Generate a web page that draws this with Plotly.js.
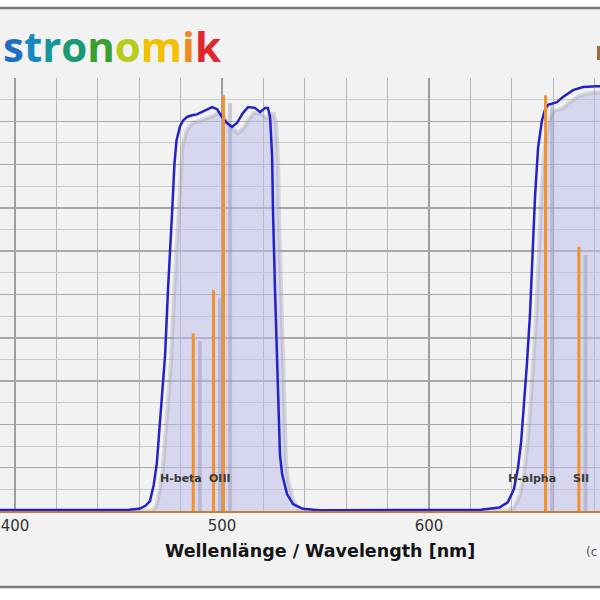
<!DOCTYPE html>
<html><head><meta charset="utf-8">
<script src="https://cdn.plot.ly/plotly-3.0.1.min.js"></script>
<style>html,body{margin:0;padding:0;background:#fff}#chart{width:600px;height:600px}</style>
</head><body><div id="chart"></div>
<script>
// Filter transmission curve (wavelength nm, transmission %)
const wavelength = [392,420,440,455,460,463,465.2,467,468.5,470,471.3,472.5,473.9,475,476,477,478,479.7,481.2,483.1,485.5,487.9,490.5,492.8,495.2,497.6,500,502.4,504.8,507.2,510.1,512.6,515.9,518.4,520.8,522.2,523.2,524.2,524.6,525.6,526.6,527.1,528,529,531.4,534.3,539.1,547,570,600,625,634,638,641,643,644.5,646,647.3,648.8,650.2,651.2,652.7,654.6,656,657.5,661.8,664.7,669.6,674.4,681.2,690];
const transmission = [0.2,0.2,0.2,0.3,0.5,1.2,2.3,6,11,20,28,36,51,60,70,80,85.5,88.8,90.2,91,91.4,91.6,92.2,92.6,93.3,92.8,91,89.6,88.7,89.6,91.9,93.3,93.1,92.1,93.1,93.1,91,82,70,51,35,22,13,8.6,3.9,1.6,0.5,0.2,0.2,0.2,0.3,0.8,2,5,10,16,25,34,45.6,61,72.5,84,90.3,92.6,93.8,94.4,95.6,97.2,97.9,98.1,98.2];

// Emission lines
const lineNames = ['H-beta','OIII','OIII','H-alpha','SII'];
const lineWl = [486.1, 495.9, 500.7, 656.3, 672.4];
const lineHeight = [41, 51, 96, 96, 61];

// Line labels
const labelText = ['H-beta','OIII','H-alpha','SII'];

// Axis ticks
const tickVals = [400, 500, 600];
const tickText = ['400', '500', '600'];

// Logo (visible part)
const logoLetters = ['s','t','r','o','n','o','m','i','k'];
const logoColors = ['#1f6fc0','#1a88c0','#16989a','#1a9a70','#3a9e32','#b8cc1a','#f2c000','#ee8a1e','#e0262e'];

const xTitle = 'Wellenlänge / Wavelength [nm]';
const copyText = '(c';

// shadow offsets (drop-shadow effect of original chart)
const sdx = 2.9, sdy = 1.4;

const shadowX = wavelength.map(v => v + sdx);
const shadowY = transmission.map(v => Math.max(v - sdy, 0));

const emX = [], emY = [], emSX = [], emSY = [];
lineWl.forEach((w, i) => {
  emX.push(w, w, null); emY.push(0, lineHeight[i], null);
  emSX.push(w + 3.2, w + 3.2, null); emSY.push(0, Math.max(lineHeight[i] - 1.8, 0), null);
});

const traces = [
  {x: shadowX, y: shadowY, type: 'scatter', mode: 'lines', fill: 'tozeroy',
   fillcolor: 'rgba(185,185,235,0.5)', line: {color: 'rgba(150,150,160,0.3)', width: 4}, hoverinfo: 'skip'},
  {x: emSX, y: emSY, type: 'scatter', mode: 'lines', line: {color: 'rgba(150,150,180,0.45)', width: 4}, hoverinfo: 'skip'},
  {x: wavelength, y: transmission, type: 'scatter', mode: 'lines', line: {color: '#2222c8', width: 2.5}},
  {x: emX, y: emY, type: 'scatter', mode: 'lines', line: {color: '#f2902a', width: 3}}
];

const logoText = logoLetters.map((c, i) => `<span style="color:${logoColors[i]}">${c}</span>`).join('');

const labelFont = {family: 'DejaVu Sans', size: 11, color: '#3a3a3a', weight: 'bold'};
const labelAnn = [
  {x: lineWl[0], xshift: -12},
  {x: lineWl[2], xshift: -3},
  {x: lineWl[3], xshift: -14},
  {x: lineWl[4], xshift: 2.5}
].map((p, i) => ({x: p.x, y: 7.6, xref: 'x', yref: 'y', text: '<b>' + labelText[i] + '</b>',
  showarrow: false, xshift: p.xshift, font: labelFont, xanchor: 'center', yanchor: 'middle'}));

const layout = {
  width: 600, height: 600,
  margin: {l: 0, r: 0, t: 78, b: 89, pad: 0},
  paper_bgcolor: '#ffffff',
  plot_bgcolor: 'rgba(0,0,0,0)',
  showlegend: false,
  xaxis: {
    range: [392.75, 682.6], tickvals: tickVals, ticktext: tickText, ticks: '',
    tickfont: {family: 'DejaVu Sans', size: 15, color: '#333'},
    showgrid: true, gridcolor: '#9e9e9e', gridwidth: 1.5,
    minor: {dtick: 20, tick0: 400, showgrid: true, gridcolor: '#b8b8b8', gridwidth: 1},
    showline: true, linecolor: '#c0803a', linewidth: 2, zeroline: false, layer: 'below traces'
  },
  yaxis: {
    range: [0, 100], dtick: 10, showticklabels: false, ticks: '',
    showgrid: true, gridcolor: '#a8a8a8', gridwidth: 1.5,
    minor: {dtick: 5, showgrid: true, gridcolor: '#cacaca', gridwidth: 1},
    zeroline: false, showline: false
  },
  shapes: [
    {type: 'rect', xref: 'paper', yref: 'paper', x0: -0.02, x1: 1.02, y0: (511-587)/433, y1: (511-8)/433,
     fillcolor: '#f2f2f2', line: {color: '#7a7a7a', width: 2.5}, layer: 'below'},
    {type: 'rect', xref: 'paper', yref: 'paper', x0: 597/600, x1: 1.01, y0: (511-60)/433, y1: (511-46)/433,
     fillcolor: '#9c6b3c', line: {width: 0}, layer: 'above'}
  ],
  annotations: [
    {xref: 'paper', yref: 'paper', x: 0.5/600, y: (511-45)/433, xanchor: 'left', yanchor: 'middle',
     text: '<b>' + logoText + '</b>', showarrow: false, font: {family: 'Open Sans', size: 42, weight: 800}},
    {xref: 'paper', yref: 'paper', x: 320/600, y: (511-551)/433, xanchor: 'center', yanchor: 'middle',
     text: '<b>' + xTitle + '</b>', showarrow: false, font: {family: 'DejaVu Sans', size: 17.5, color: '#141414'}},
    {xref: 'paper', yref: 'paper', x: 599/600, y: (511-552)/433, xanchor: 'right', yanchor: 'middle',
     text: copyText, showarrow: false, font: {family: 'DejaVu Sans', size: 12, color: '#555'}}
  ].concat(labelAnn)
};

Plotly.newPlot('chart', traces, layout, {displayModeBar: false, staticPlot: true});
</script></body></html>
